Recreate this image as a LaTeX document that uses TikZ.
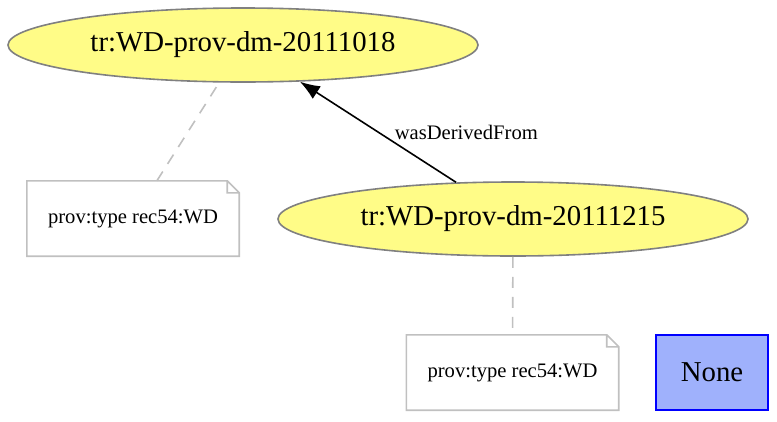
\documentclass[tikz,border=0pt]{standalone}
\usepackage{fontspec}
\setmainfont{Liberation Serif}
\usetikzlibrary{arrows.meta,shapes.geometric}
\definecolor{entfill}{HTML}{FFFC87}
\definecolor{entline}{HTML}{808080}
\definecolor{notegray}{HTML}{C0C0C0}
\definecolor{agentfill}{HTML}{9FB1FC}
\tikzset{
  entity/.style={ellipse, draw=entline, fill=entfill, line width=1.6pt, inner sep=0pt,
    minimum width=470pt, minimum height=74pt, font=\fontsize{28.8}{34}\selectfont},
  notebox/.style={rectangle, inner sep=0pt, minimum width=212pt, minimum height=75pt,
    font=\fontsize{20.6}{24}\selectfont,
    append after command={
      \pgfextra{\draw[notegray, line width=1.6pt]
        (\tikzlastnode.south west) -- (\tikzlastnode.north west)
        -- ([xshift=-12pt]\tikzlastnode.north east) -- ([yshift=-12pt]\tikzlastnode.north east)
        -- (\tikzlastnode.south east) -- cycle
        ([xshift=-12pt]\tikzlastnode.north east) -- ([xshift=-12pt,yshift=-12pt]\tikzlastnode.north east)
        -- ([yshift=-12pt]\tikzlastnode.north east);}}},
  annolink/.style={notegray, line width=1.6pt, dash pattern=on 11pt off 9pt},
  derived/.style={line width=1.6pt, -{Latex[length=20pt,width=15pt]}}
}
\begin{document}
\begin{tikzpicture}[x=1pt, y=-1pt]
  \useasboundingbox (0,0) rectangle (777,421);

  % Entidades
  \node[entity] (wd1018) at (243,45) {tr:WD-prov-dm-20111018};
  \node[entity] (wd1215) at (513,219) {tr:WD-prov-dm-20111215};

  % Notas
  \node[notebox] (note1) at (133,218.5) {prov:type rec54:WD};
  \node[notebox] (note2) at (512.5,372.5) {prov:type rec54:WD};

  % Agente
  \node[rectangle, draw=blue, fill=agentfill, line width=1.6pt, minimum width=112pt,
    minimum height=75pt, font=\fontsize{28.8}{34}\selectfont] (none) at (712,372.5) {None};

  % Conectores
  \draw[derived] (wd1215) -- (wd1018)
    node[midway, anchor=west, inner sep=0pt, xshift=16pt, font=\fontsize{20.6}{24}\selectfont] {wasDerivedFrom};
  \draw[annolink] (note1) -- (wd1018);
  \draw[annolink] (wd1215) -- (note2);
\end{tikzpicture}
\end{document}
